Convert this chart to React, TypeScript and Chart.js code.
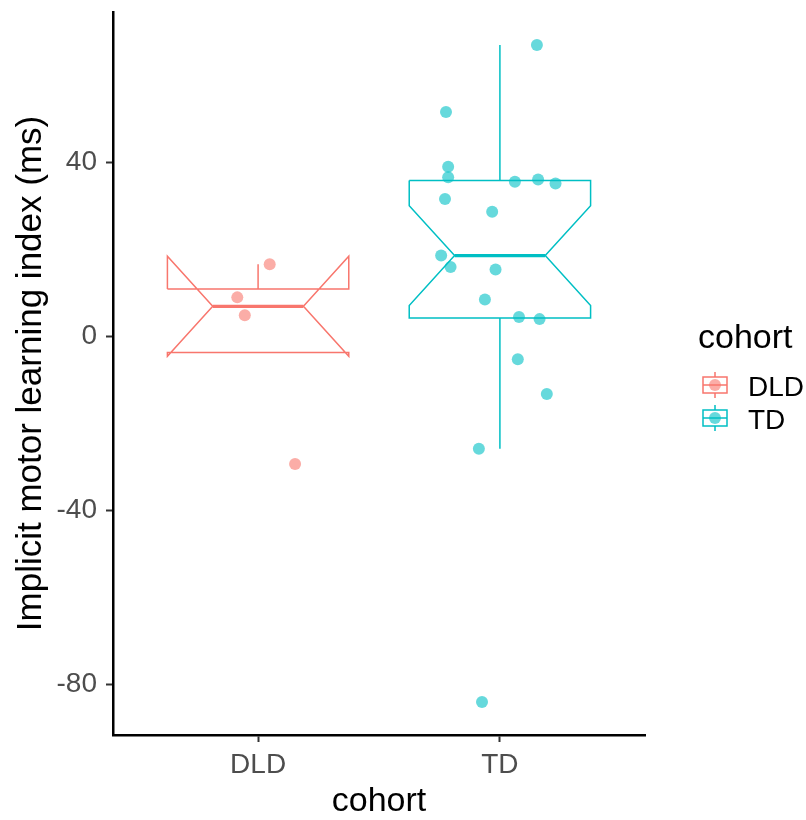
import React, { useEffect, useRef } from "react";
import { Chart, registerables } from "chart.js";

Chart.register(...registerables);

// ---------- data ----------
const categories = ["DLD", "TD"];
const groupColors = ["#F8766D", "#00BFC4"];
const dldValues = [16.5, 8.9, 4.8, -29.4];
const dldJitterX = [1.048, 0.914, 0.945, 1.153];
const tdValues = [66.9, 51.5, 38.9, 36.5, 35.5, 36.0, 35.1, 31.5, 28.6, 18.5, 15.9, 15.3, 8.4, 4.4, 3.9, -5.3, -13.3, -25.9, -84.1];
const tdJitterX = [2.153, 1.777, 1.786, 1.786, 2.062, 2.158, 2.23, 1.773, 1.968, 1.757, 1.796, 1.982, 1.938, 2.079, 2.164, 2.074, 2.194, 1.913, 1.926];
const yTicks = [-80, -40, 0, 40];
const xTitle = "cohort";
const yTitle = "Implicit motor learning index (ms)";
const legendTitle = "cohort";

const groupValues = [dldValues, tdValues];
const groupJitter = [dldJitterX, tdJitterX];

// ---------- helpers ----------
const FONT = "'Liberation Sans', Arial, sans-serif";
const BOX_WIDTH = 0.75;
const NOTCH_WIDTH = 0.5;

function rgba(hex: string, a: number) {
  const n = parseInt(hex.slice(1), 16);
  return `rgba(${(n >> 16) & 255},${(n >> 8) & 255},${n & 255},${a})`;
}

function quantile(s: number[], p: number) {
  const h = (s.length - 1) * p;
  const lo = Math.floor(h);
  const hi = Math.min(lo + 1, s.length - 1);
  return s[lo] + (h - lo) * (s[hi] - s[lo]);
}

function boxStats(values: number[]) {
  const s = [...values].sort((a, b) => a - b);
  const q1 = quantile(s, 0.25);
  const med = quantile(s, 0.5);
  const q3 = quantile(s, 0.75);
  const iqr = q3 - q1;
  const inside = s.filter((v) => v >= q1 - 1.5 * iqr && v <= q3 + 1.5 * iqr);
  const ymin = Math.min(q1, ...inside);
  const ymax = Math.max(q3, ...inside);
  const notch = (1.58 * iqr) / Math.sqrt(s.length);
  return { q1, med, q3, ymin, ymax, notchLo: med - notch, notchHi: med + notch };
}

function buildDatasets() {
  const ds: any[] = [];
  categories.forEach((cat, i) => {
    const color = groupColors[i];
    const st = boxStats(groupValues[i]);
    const cx = i + 1;
    const xmin = cx - BOX_WIDTH / 2;
    const xmax = cx + BOX_WIDTH / 2;
    const indent = ((1 - NOTCH_WIDTH) * (xmax - xmin)) / 2;
    const lineBase = {
      type: "scatter",
      showLine: true,
      borderColor: color,
      pointRadius: 0,
      pointHoverRadius: 0,
      fill: false,
      order: 2,
    };
    // whiskers
    ds.push({ ...lineBase, label: cat + " upper whisker", borderWidth: 1.5, data: [{ x: cx, y: st.q3 }, { x: cx, y: st.ymax }] });
    ds.push({ ...lineBase, label: cat + " lower whisker", borderWidth: 1.5, data: [{ x: cx, y: st.q1 }, { x: cx, y: st.ymin }] });
    // notched box
    ds.push({
      ...lineBase,
      label: cat + " box",
      borderWidth: 1.5,
      data: [
        { x: xmin, y: st.q3 },
        { x: xmin, y: st.notchHi },
        { x: xmin + indent, y: st.med },
        { x: xmin, y: st.notchLo },
        { x: xmin, y: st.q1 },
        { x: xmax, y: st.q1 },
        { x: xmax, y: st.notchLo },
        { x: xmax - indent, y: st.med },
        { x: xmax, y: st.notchHi },
        { x: xmax, y: st.q3 },
        { x: xmin, y: st.q3 },
      ],
    });
    // median
    ds.push({ ...lineBase, label: cat + " median", borderWidth: 3.2, data: [{ x: xmin + indent, y: st.med }, { x: xmax - indent, y: st.med }] });
    // jittered points
    ds.push({
      type: "scatter",
      label: cat,
      data: groupValues[i].map((v, j) => ({ x: groupJitter[i][j], y: v })),
      backgroundColor: rgba(color, 0.6),
      borderWidth: 0,
      pointRadius: 6,
      pointHoverRadius: 6,
      order: 0,
    });
  });
  return ds;
}

const legendPlugin = {
  id: "ggLegend",
  afterDraw(chart: any) {
    const { ctx, chartArea } = chart;
    const left = chartArea.right + 53;
    ctx.save();
    ctx.fillStyle = "#000";
    ctx.textAlign = "left";
    ctx.textBaseline = "alphabetic";
    ctx.font = `34px ${FONT}`;
    ctx.fillText(legendTitle, left, 348);
    categories.forEach((cat, i) => {
      const color = groupColors[i];
      const cx = left + 17;
      const cy = 385 + i * 33;
      ctx.strokeStyle = color;
      ctx.lineWidth = 1.5;
      ctx.beginPath();
      ctx.moveTo(cx, cy - 13);
      ctx.lineTo(cx, cy - 8);
      ctx.moveTo(cx, cy + 8);
      ctx.lineTo(cx, cy + 13);
      ctx.stroke();
      ctx.fillStyle = "#fff";
      ctx.fillRect(cx - 12, cy - 8, 24, 16);
      ctx.strokeRect(cx - 12, cy - 8, 24, 16);
      ctx.beginPath();
      ctx.moveTo(cx - 12, cy);
      ctx.lineTo(cx + 12, cy);
      ctx.stroke();
      ctx.fillStyle = rgba(color, 0.6);
      ctx.beginPath();
      ctx.arc(cx, cy, 6, 0, Math.PI * 2);
      ctx.fill();
      ctx.fillStyle = "#000";
      ctx.font = `28px ${FONT}`;
      ctx.fillText(cat, left + 50, cy + 11);
    });
    ctx.restore();
  },
};

export default function App() {
  const ref = useRef<HTMLCanvasElement | null>(null);
  useEffect(() => {
    if (!ref.current) return;
    const chart = new Chart(ref.current, {
      type: "scatter",
      data: { datasets: buildDatasets() },
      plugins: [legendPlugin],
      options: {
        responsive: false,
        animation: false,
        layout: { padding: { top: 12, right: 161, left: 0, bottom: 0 } },
        plugins: { legend: { display: false }, tooltip: { enabled: false } },
        scales: {
          x: {
            type: "linear",
            min: 0.4,
            max: 2.6,
            afterBuildTicks: (scale: any) => {
              scale.ticks = categories.map((_, i) => ({ value: i + 1 }));
            },
            afterFit: (scale: any) => {
              scale.height = 85;
              scale.paddingLeft = 0;
              scale.paddingRight = 0;
            },
            ticks: {
              callback: (v: any) => categories[Math.round(Number(v)) - 1] ?? "",
              color: "#4D4D4D",
              font: { family: FONT, size: 28 },
              padding: 6,
              maxRotation: 0,
              autoSkip: false,
            },
            grid: { display: true, drawOnChartArea: false, drawTicks: true, tickLength: 7, tickColor: "#333333", tickWidth: 2 },
            border: { display: true, color: "#000", width: 2.5 },
            title: { display: true, text: xTitle, color: "#000", font: { family: FONT, size: 34, lineHeight: 1 }, padding: { top: 0, bottom: 1 } },
          },
          y: {
            type: "linear",
            min: -91.7,
            max: 74.5,
            afterBuildTicks: (scale: any) => {
              scale.ticks = yTicks.map((v) => ({ value: v }));
            },
            afterFit: (scale: any) => {
              scale.width = 113;
              scale.paddingTop = 0;
              scale.paddingBottom = 0;
            },
            ticks: {
              color: "#4D4D4D",
              font: { family: FONT, size: 28 },
              padding: 9,
              autoSkip: false,
            },
            grid: { display: true, drawOnChartArea: false, drawTicks: true, tickLength: 7, tickColor: "#333333", tickWidth: 2 },
            border: { display: true, color: "#000", width: 2.5 },
            title: { display: true, text: yTitle, color: "#000", font: { family: FONT, size: 35, lineHeight: 1 }, padding: { top: 13.5, bottom: 0 } },
          },
        },
      } as any,
    });
    return () => chart.destroy();
  }, []);
  return (
    <div style={{ position: "fixed", left: 0, top: 0, width: 806, height: 820 }}>
      <canvas ref={ref} width={806} height={820} style={{ display: "block" }} />
    </div>
  );
}
